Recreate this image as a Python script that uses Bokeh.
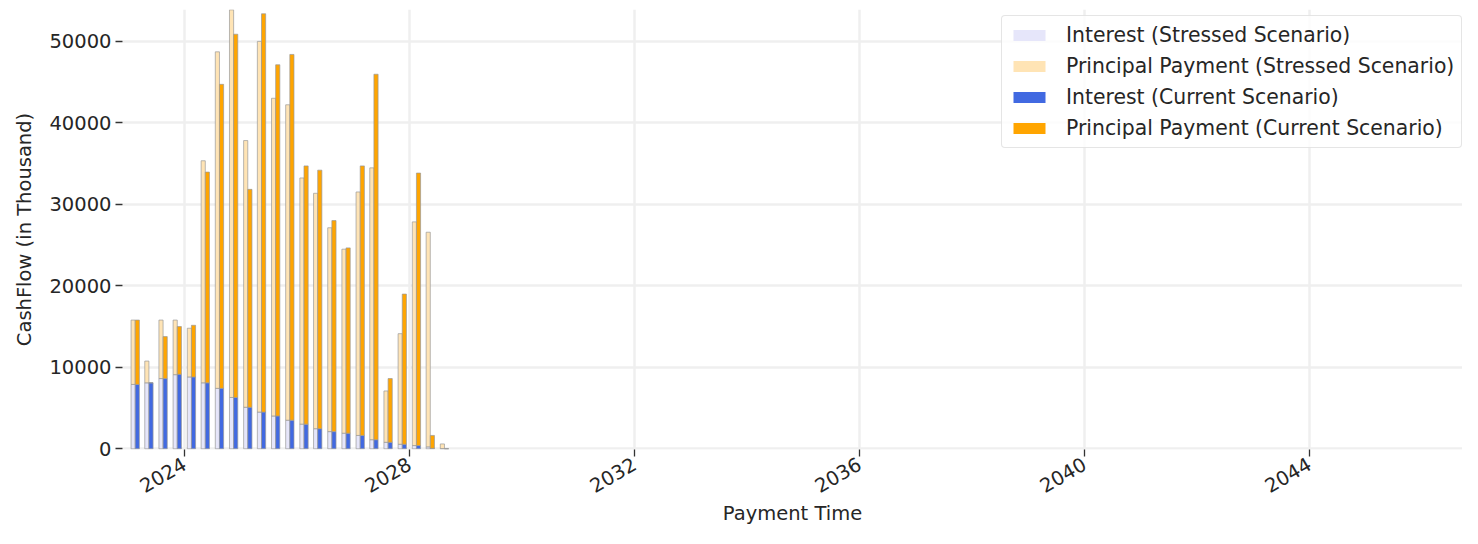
import math
import pandas as pd
from bokeh.plotting import figure
from bokeh.models import (ColumnDataSource, Range1d, FixedTicker, DatetimeTickFormatter,
                          Legend, LegendItem, BasicTickFormatter)
from bokeh.embed import file_html
from bokeh.resources import INLINE

# ---------------- data ----------------
payment_dates = [
    "2023-02-15", "2023-05-15", "2023-08-15", "2023-11-15",
    "2024-02-15", "2024-05-15", "2024-08-15", "2024-11-15",
    "2025-02-15", "2025-05-15", "2025-08-15", "2025-11-15",
    "2026-02-15", "2026-05-15", "2026-08-15", "2026-11-15",
    "2027-02-15", "2027-05-15", "2027-08-15", "2027-11-15",
    "2028-02-15", "2028-05-15", "2028-08-15",
]
interest_stressed = [7900, 8100, 8620, 9100, 8820, 8100, 7420, 6300, 5100, 4510, 4030, 3510,
                     3030, 2470, 2110, 1915, 1640, 1120, 800, 560, 400, 240, 30]
principal_stressed = [7900, 2670, 7180, 6700, 5980, 27250, 41300, 47570, 32730, 45490, 38990, 38710,
                      30210, 28890, 25020, 22585, 29880, 33360, 6300, 13570, 27450, 26340, 570]
interest_current = [7900, 8100, 8620, 9150, 8820, 8100, 7420, 6300, 5100, 4510, 4030, 3510,
                    3030, 2470, 2110, 1915, 1640, 1120, 800, 560, 400, 60, 0]
principal_current = [7900, 0, 5150, 5850, 6340, 25860, 37310, 44580, 26740, 48880, 43100, 44890,
                     31690, 31730, 25900, 22745, 33080, 44850, 7820, 18430, 33440, 1580, 0]

x_tick_years = [2024, 2028, 2032, 2036, 2040, 2044]
y_ticks = [0, 10000, 20000, 30000, 40000, 50000]

legend_labels = ["Interest (Stressed Scenario)", "Principal Payment (Stressed Scenario)",
                 "Interest (Current Scenario)", "Principal Payment (Current Scenario)"]
colors = ["#E6E6FA", "#FFE4B5", "#4169E1", "#FFA500"]

# ---------------- build ----------------
FONT = "DejaVu Sans"
FS = "19.5px"
TXT = "#262626"

W, H = 1462, 528
FRAME_LEFT, FRAME_TOP, BOTTOM_BORDER = 122, 9, 77

dt = pd.to_datetime(payment_dates)
bar_days = 27
half = pd.Timedelta(days=bar_days / 2)
src = ColumnDataSource(dict(
    xs=dt - half, xc=dt + half,
    si=interest_stressed, sp=principal_stressed,
    ci=interest_current, cp=principal_current,
))

px_per_day = 56.25 / 365.25
t2024 = pd.Timestamp("2024-01-01")
x_start = t2024 - pd.Timedelta(days=(184 - FRAME_LEFT) / px_per_day)
x_end = t2024 + pd.Timedelta(days=(W - 184) / px_per_day)

p = figure(width=W, height=H, x_axis_type="datetime",
           output_backend="svg", toolbar_location=None,
           x_range=Range1d(x_start, x_end), y_range=Range1d(-84, 53915),
           min_border_left=FRAME_LEFT, min_border_right=0, min_border_top=FRAME_TOP,
           min_border_bottom=BOTTOM_BORDER)
p.outline_line_color = None
p.background_fill_color = "white"

width_ms = bar_days * 86400000
rs = p.vbar_stack(["si", "sp"], x="xs", width=width_ms, source=src,
                  fill_color=colors[:2], line_color="#9a9a9a", line_width=0.7)
rc = p.vbar_stack(["ci", "cp"], x="xc", width=width_ms, source=src,
                  fill_color=colors[2:], line_color="#9a9a9a", line_width=0.7)

# legend proxies: zero-width, outline-free copies of the stacks (invisible in the plot)
proxy_cols = [("xs", "si"), ("xs", "sp"), ("xc", "ci"), ("xc", "cp")]
proxies = [p.vbar(x=xc, top=yc, width=0, source=src, fill_color=c, line_color=None)
           for (xc, yc), c in zip(proxy_cols, colors)]
frame_bottom = H - BOTTOM_BORDER
legend = Legend(items=[LegendItem(label=l, renderers=[r]) for l, r in zip(legend_labels, proxies)],
                location=(1001 - FRAME_LEFT, frame_bottom - 150))
legend.label_text_font = FONT
legend.label_text_font_size = "20.4px"
legend.label_text_color = TXT
legend.glyph_width = 40
legend.glyph_height = 14
legend.label_standoff = 17
legend.label_height = 24
legend.spacing = 7
legend.padding = 7
legend.margin = 0
legend.border_line_color = "#cccccc"
legend.border_line_width = 1.2
legend.background_fill_alpha = 0.8
legend.border_radius = 4
p.add_layout(legend)

# axes
x_ticks_ms = [pd.Timestamp(f"{y}-01-01").value // 10**6 for y in x_tick_years]
p.xaxis.ticker = FixedTicker(ticks=x_ticks_ms, minor_ticks=[])
p.xaxis.formatter = DatetimeTickFormatter(years="%Y", months="%Y", days="%Y", hours="%Y",
                                          minutes="%Y", seconds="%Y", milliseconds="%Y",
                                          minsec="%Y", hourmin="%Y")
p.xaxis.major_label_orientation = math.pi / 6
p.yaxis.ticker = FixedTicker(ticks=y_ticks, minor_ticks=[])
p.yaxis.formatter = BasicTickFormatter(use_scientific=False)

p.xaxis.axis_label = "Payment Time"
p.yaxis.axis_label = "CashFlow (in Thousand)"
for ax in (p.xaxis, p.yaxis):
    ax.axis_line_color = None
    ax.major_tick_line_color = "#333333"
    ax.major_tick_line_width = 1.3
    ax.major_tick_out = 7
    ax.major_tick_in = 0
    ax.minor_tick_line_color = None
    ax.major_label_text_font = FONT
    ax.major_label_text_font_size = FS
    ax.major_label_text_color = TXT
    ax.axis_label_text_font = FONT
    ax.axis_label_text_font_size = FS
    ax.axis_label_text_color = TXT
    ax.axis_label_text_font_style = "normal"
p.yaxis.major_label_standoff = 4
p.yaxis.axis_label_standoff = 10
p.xaxis.major_label_standoff = 6
p.xaxis.axis_label_standoff = 0

for g in (p.xgrid, p.ygrid):
    g.grid_line_color = "#efefef"
    g.grid_line_width = 2.5

open("out.html", "w").write(file_html(p, INLINE))
